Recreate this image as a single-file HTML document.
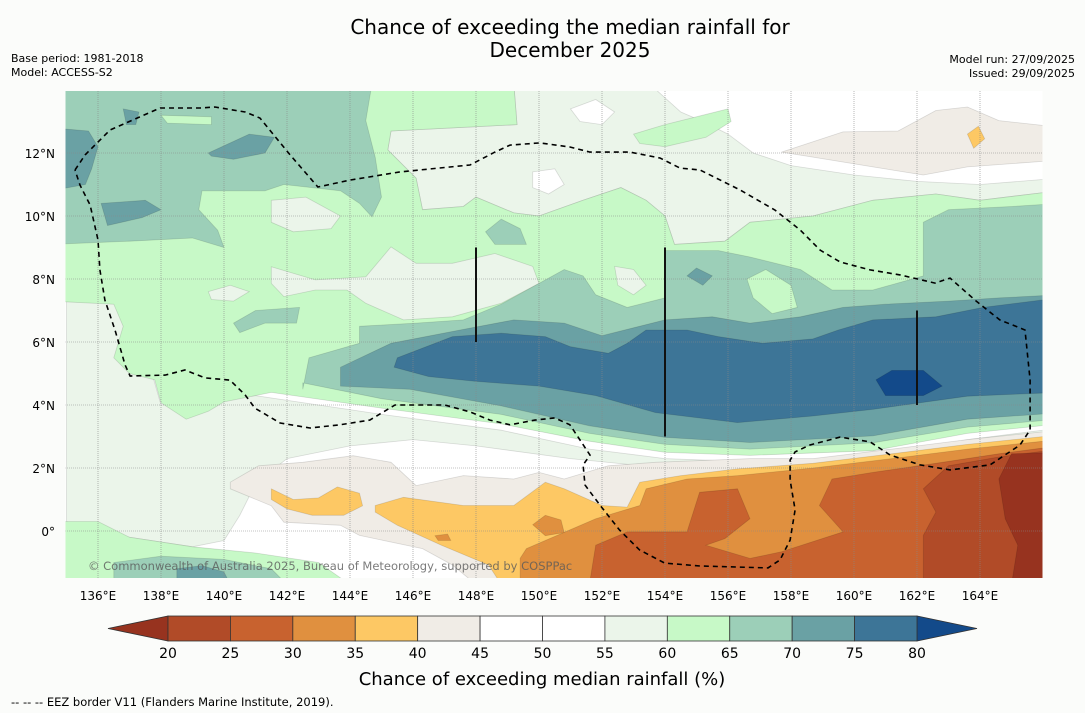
<!DOCTYPE html>
<html><head><meta charset="utf-8"><style>
body{margin:0;background:#fbfcfa;}
svg{display:block;font-family:"DejaVu Sans","Liberation Sans",sans-serif;}
</style></head><body>
<svg id="s" width="1085" height="713" viewBox="0 0 1085 713">
<rect width="1085" height="713" fill="#fbfcfa"/>
<text x="570" y="34" text-anchor="middle" font-size="20" fill="#000">Chance of exceeding the median rainfall for</text>
<text x="570" y="57" text-anchor="middle" font-size="20" fill="#000">December 2025</text>
<text x="11" y="62" font-size="11">Base period: 1981-2018</text>
<text x="11" y="76" font-size="11">Model: ACCESS-S2</text>
<text x="1075" y="63" font-size="11" text-anchor="end">Model run: 27/09/2025</text>
<text x="1075" y="77" font-size="11" text-anchor="end">Issued: 29/09/2025</text>
<defs><clipPath id="mc"><rect x="65.5" y="91" width="977" height="487"/></clipPath></defs>
<g id="map" clip-path="url(#mc)"></g>
<g id="over"></g>
<g id="cbar"></g>
<text x="542" y="685" text-anchor="middle" font-size="18">Chance of exceeding median rainfall (%)</text>
<text x="11" y="706" font-size="11.5">--  --  -- EEZ border V11 (Flanders Marine Institute, 2019).</text>
</svg>
<script>
// Colour levels
const levelLabels=[20,25,30,35,40,45,50,55,60,65,70,75,80];
const binColors=['#b14b28','#c8622f','#e0903f','#fdc864','#f0ece6','#ffffff','#ffffff','#ebf5ea','#c7f9c7','#9ccfb8','#6aa1a4','#3d7597'];
const underColor='#97331f', overColor='#134a8a';
const lonTicks=[136,138,140,142,144,146,148,150,152,154,156,158,160,162,164];
const latTicks=[0,2,4,6,8,10,12];
// Contour regions [lon,lat]
const offWhiteSouth=[[135,7.5],[137,7.5],[138,4],[141,4.3],[145,3.7],[148.8,3.2],[151.6,2.6],[154,2.3],[156.7,2.2],[160.6,2.35],[163.6,2.9],[166,3.2],[166,3.0],[163,2.6],[160,2.1],[157,1.9],[154,2.0],[151,2.3],[148,2.7],[146,2.9],[144,2.7],[142,2.3],[141,1.5],[140.5,0.5],[140,-0.3],[139,-0.5],[137,-0.2],[135,0.3]];
const offWhiteNE=[[148,14.2],[166.5,14.2],[166.5,10.8],[164,10.5],[162.6,10.7],[160.6,10.5],[158.7,10],[156.7,9.8],[155.9,9.2],[154.3,9.1],[154,10],[153.4,10.5],[152.6,10.9],[151.4,10.5],[150,10],[149.2,10.1],[148,10.6],[147.6,10.3],[146.3,10.2],[146.1,11.2],[145.2,12.1],[145.3,12.7],[149.3,12.9],[149.2,14.2]];
const whiteNE=[[153.5,14.2],[166.5,14.2],[166.5,11.2],[164,11.0],[162,11.1],[160,11.3],[158,11.6],[156.8,12.0],[156,12.6],[155.2,13.0],[154.5,13.3]];
const tanNE=[[157.7,12.03],[159.65,12.67],[161.4,12.7],[162.6,13.35],[163.6,13.46],[164.6,13.03],[166.5,12.82],[166.5,11.77],[163.6,11.56],[162.2,11.3],[160.6,11.56],[158.7,11.87]];
const orangeNE=[[163.6,12.6],[163.95,12.85],[164.15,12.45],[163.8,12.15]];
const whiteA=[[149.8,11.4],[150.5,11.5],[150.8,11.0],[150.3,10.7],[149.8,10.9]];
const whiteB=[[151,13.4],[151.8,13.7],[152.4,13.3],[152,12.9],[151.3,13.0]];
const lgNE=[[153,12.6],[154,12.9],[155.2,13.2],[156,13.4],[156.1,13.0],[155.3,12.5],[154,12.2],[153.2,12.3]];
const lightGreen=[[134.5,14.2],[149.2,14.2],[149.3,12.9],[145.3,12.7],[145.2,12.1],[146.1,11.2],[146.3,10.2],[147.6,10.3],[148,10.6],[149.2,10.1],[150,10],[151.4,10.5],[152.6,10.9],[153.4,10.5],[154,10],[154.3,9.1],[155.9,9.2],[156.7,9.8],[158.7,10],[160.6,10.5],[162.6,10.7],[164,10.5],[166.5,10.8],[166.5,3.4],[163.6,3.1],[160.6,2.55],[156.7,2.4],[154,2.5],[151.6,2.85],[148.8,3.4],[145,3.9],[141.5,4.4],[140,4.1],[139.5,3.8],[138.8,3.55],[138,4.07],[137.8,4.8],[137,5.0],[136.5,5.5],[136.8,6.5],[136.5,7.2],[134.5,7.3]];
const ow1=[[141.5,10.5],[142.6,10.6],[143.7,10.0],[143.4,9.6],[142.2,9.5],[141.5,9.8]];
const ow2=[[141.5,8.39],[142.9,7.97],[144.5,8.07],[145.3,9.02],[146.1,8.5],[147.25,8.5],[148.6,8.81],[149.8,8.4],[150,7.86],[148.8,7.23],[147.25,6.8],[145.7,6.7],[144.5,7.23],[143.9,7.65],[142.9,7.65],[141.9,7.44],[141.5,7.86]];
const ow3=[[139.5,7.6],[140.2,7.8],[140.8,7.6],[140.3,7.3],[139.6,7.35]];
const ow4=[[152.4,8.4],[153,8.3],[153.4,7.8],[153,7.5],[152.5,7.8]];
const tealNW=[[134.5,14.2],[144.7,14.2],[144.5,13.03],[144.8,11.87],[145,10.6],[144.7,9.97],[144.3,10.4],[143.7,10.8],[141.9,11.0],[141.3,10.8],[139.3,10.8],[139.2,10.2],[139.8,9.55],[140,9.0],[139,9.3],[137,9.2],[134.5,9.1]];
const lgNWspot=[[138,13.2],[139.6,13.15],[139.6,12.9],[138.2,12.95]];
const darkNW1=[[134.5,12.8],[135.7,12.7],[136,12.2],[135.8,11.5],[135.6,11.0],[134.5,10.8]];
const darkNW2=[[139.5,12.0],[140.8,12.6],[141.6,12.5],[141.3,12.0],[140.3,11.8],[139.6,11.9]];
const darkNW3=[[136.1,10.4],[137.5,10.5],[138,10.2],[137.4,9.95],[136.3,9.7]];
const darkNW4=[[136.8,13.4],[137.3,13.3],[137.2,12.9],[136.9,12.9]];
const tealMid1=[[148.3,9.5],[148.8,9.9],[149.4,9.6],[149.6,9.1],[148.6,9.1]];
const tealMid2=[[140.3,6.6],[141,7.0],[142.4,7.1],[142.3,6.6],[141.3,6.6],[140.5,6.3]];
const teal65=[[142.5,4.5],[142.7,5.5],[144.3,5.96],[144.3,6.5],[146.1,6.6],[147.6,6.7],[148.8,7.2],[150.8,8.3],[151.4,8.1],[151.8,7.5],[152.8,7.1],[154,7.4],[154,8.9],[155.7,8.9],[156.7,8.7],[158.3,8.3],[159.3,7.65],[160.6,7.65],[162.2,8.1],[162.2,9.8],[163,10.2],[165,10.3],[166.5,10.4],[166.5,3.55],[163.6,3.3],[160.6,2.8],[156.7,2.6],[154,2.75],[151.6,3.1],[148.8,3.7],[145,4.2],[142.5,4.7]];
const lgHole=[[156.6,8.0],[157.2,8.3],[158,7.8],[158.2,7.1],[157.4,6.9],[156.8,7.4]];
const teal70=[[143.7,4.6],[143.7,5.2],[145.3,5.96],[147.6,6.4],[149.2,6.7],[150.8,6.6],[152,6.2],[154,6.7],[155.5,6.8],[156.7,6.6],[158.3,6.8],[159.65,7.1],[161,7.2],[163,7.3],[164.6,7.4],[166.5,7.5],[166.5,3.75],[163.6,3.55],[160.6,3.02],[156.7,2.81],[154,2.97],[151.6,3.34],[148.8,3.97],[145.9,4.5]];
const tealSpot=[[154.7,8.1],[155,8.35],[155.5,8.1],[155.2,7.8]];
const blue75=[[145.4,5.2],[145.5,5.5],[147.25,6.17],[148.8,6.28],[150.2,6.17],[151,5.85],[152.2,5.64],[152.8,5.96],[153.4,6.38],[154.7,6.38],[155.7,6.17],[157.1,5.96],[158.7,6.1],[159.5,6.38],[160.6,6.7],[162.6,6.8],[164.1,7.1],[166.5,7.4],[166.5,4.4],[163.6,4.28],[160.6,3.86],[158.7,3.65],[156.3,3.44],[153.7,3.76],[151.8,4.3],[150,4.6],[148,4.75],[146.5,4.9]];
const blue80=[[160.7,4.8],[161.2,5.1],[162.2,5.1],[162.8,4.6],[162.2,4.3],[161,4.3]];
const lgSW=[[134.5,0.3],[136,0.3],[137,-0.2],[139,-0.5],[141,-0.7],[143,-1.0],[144,-1.7],[134.5,-1.7]];
const tealSW=[[136.5,-1.0],[138,-0.8],[140,-0.9],[141.5,-1.2],[142,-1.7],[136.5,-1.7]];
const darkSW=[[138.5,-1.2],[139.3,-1.1],[140,-1.3],[140.2,-1.7],[138.5,-1.7]];
const tan=[[140.2,1.55],[141.1,2.07],[142.5,2.18],[144.1,2.39],[145.3,2.18],[146.1,1.44],[147.6,1.76],[149.2,1.65],[150,1.86],[150.8,1.65],[152.2,2.07],[153.7,2.18],[156.7,2.3],[158.7,2.3],[161.2,2.6],[163.6,2.9],[166.5,3.2],[166.5,-1.7],[148,-1.7],[147.25,-1.08],[146.3,-0.56],[144.3,-0.14],[143.7,0.18],[141.9,0.28],[141.5,0.8],[140.2,1.34]];
const yellowW=[[141.5,1.34],[142.2,1.0],[143,1.05],[143.6,1.4],[144.3,1.2],[144.4,0.8],[143.8,0.5],[142.8,0.5],[142,0.7],[141.5,1.0]];
const yellow=[[144.8,0.81],[145.7,1.07],[147.6,0.81],[149.2,0.81],[150.2,1.55],[150.8,1.34],[152,0.81],[152.8,0.76],[153.2,1.55],[154.5,1.76],[156.3,1.97],[158.7,2.15],[161.2,2.45],[163.6,2.75],[166.5,3.05],[166.5,-1.7],[148.8,-1.7],[148.4,-1.08],[146.9,-0.45],[145.5,0.18],[144.8,0.6]];
const orange=[[149.4,-0.87],[149.6,-0.56],[151.8,0.39],[153.2,0.81],[153.4,1.34],[154.7,1.65],[156.3,1.76],[158.7,2.0],[161.2,2.3],[163.6,2.6],[166.5,2.9],[166.5,-1.7],[149.4,-1.7]];
const orangeSpot=[[149.8,0.2],[150.2,0.5],[150.7,0.35],[150.8,-0.05],[150.2,-0.15]];
const orangeDot=[[146.7,-0.15],[147.1,-0.1],[147.2,-0.3],[146.8,-0.3]];
const red=[[151.6,-1.7],[151.8,-0.45],[152.8,-0.03],[154.7,-0.03],[155.1,1.23],[156.3,1.34],[156.7,0.39],[155.9,-0.24],[155.3,-0.45],[156.7,-0.87],[157.7,-0.66],[159.65,-0.03],[158.9,0.81],[159.3,1.65],[160.6,1.86],[162.6,2.15],[164.6,2.45],[166.5,2.7],[166.5,-1.7]];
const darkRed=[[162.2,-1.7],[162.2,-0.14],[162.6,0.6],[162.2,1.34],[163,2.07],[164.6,2.35],[166.5,2.6],[166.5,-1.7]];
const darkest=[[165,2.45],[164.6,1.65],[164.8,0.39],[165.2,-0.45],[165,-1.7],[166.5,-1.7],[166.5,2.5]];
const eez=[[135.27,11.46],[135.59,11.94],[136.38,12.73],[137.97,13.43],[139.24,13.43],[139.71,13.46],[140.67,13.3],[141.14,13.11],[142.10,11.94],[142.98,10.92],[144.0,11.14],[145.59,11.4],[147.81,11.62],[148.6,12.03],[149.08,12.25],[150.03,12.32],[150.98,12.19],[151.62,12.03],[152.89,12.03],[153.84,11.84],[154.48,11.52],[155.11,11.46],[156.38,10.83],[157.49,10.19],[158.29,9.56],[158.92,8.92],[159.56,8.54],[160.51,8.29],[161.46,8.13],[162.57,7.87],[163.05,8.03],[163.84,7.33],[164.63,6.7],[165.43,6.38],[165.59,4.79],[165.59,3.21],[165.27,2.73],[164.32,2.1],[163.05,1.94],[162.1,2.1],[161.15,2.41],[160.51,2.83],[159.56,2.98],[158.6,2.73],[158.13,2.51],[157.97,2.25],[157.97,1.62],[158.13,0.67],[157.97,-0.29],[157.65,-0.92],[157.27,-1.17],[155.11,-1.11],[153.99,-1.02],[153.19,-0.6],[152.56,0.03],[151.93,0.83],[151.46,1.46],[151.4,2.1],[151.62,2.41],[151.3,2.89],[150.98,3.37],[150.5,3.59],[149.87,3.52],[149.08,3.37],[148.44,3.52],[147.81,3.78],[147.01,4.0],[146.22,4.0],[145.43,4.0],[144.63,3.52],[143.68,3.37],[142.73,3.27],[141.78,3.43],[140.98,3.9],[140.67,4.32],[140.19,4.79],[139.4,4.86],[138.76,5.11],[138.13,4.95],[137.02,4.92],[136.86,5.27],[136.54,6.38],[136.22,7.33],[136.06,8.29],[136.0,9.24],[135.75,10.35],[135.43,10.98],[135.27,11.46]];
const ridgeLons=[148,154,162];
const ridgeTop=[9,9,7];
const ridgeBot=[6,3,4];

const NS='http://www.w3.org/2000/svg';
const X=lon=>66.5+(lon-135)*31.5;
const Y=lat=>531-lat*31.5;
const map=document.getElementById('map'),over=document.getElementById('over'),cb=document.getElementById('cbar');
function mk(tag,parent){const e=document.createElementNS(NS,tag);parent.appendChild(e);return e;}
function pts(a){return a.map(p=>X(p[0]).toFixed(1)+','+Y(p[1]).toFixed(1)).join(' ');}
const bg=mk('rect',map);bg.setAttribute('x',65);bg.setAttribute('y',91);bg.setAttribute('width',978);bg.setAttribute('height',488);bg.setAttribute('fill','#ffffff');


const layers=[
 [offWhiteSouth,7,'offwhite-south'],[offWhiteNE,7,'offwhite-northeast'],[whiteNE,5,'white-northeast'],[tanNE,4,'tan-northeast'],[orangeNE,3,'yellow-spot-northeast'],[whiteA,5,'white-patch-a'],[whiteB,5,'white-patch-b'],[lgNE,8,'lightgreen-northeast'],
 [lightGreen,8,'lightgreen-main'],[ow1,7,'offwhite-patch-1'],[ow2,7,'offwhite-patch-2'],[ow3,7,'offwhite-patch-3'],[ow4,7,'offwhite-patch-4'],
 [tealNW,9,'teal-northwest'],[lgNWspot,8,'lightgreen-nw-spot'],[darkNW1,10,'darkteal-nw-1'],[darkNW2,10,'darkteal-nw-2'],[darkNW3,10,'darkteal-nw-3'],[darkNW4,10,'darkteal-nw-4'],
 [tealMid1,9,'teal-mid-1'],[tealMid2,9,'teal-mid-2'],[teal65,9,'teal-65-band'],[lgHole,8,'lightgreen-hole'],[tealSpot,10,'darkteal-spot'],[teal70,10,'teal-70-band'],[blue75,11,'blue-75-band'],[blue80,-2,'blue-80-core'],
 [lgSW,8,'lightgreen-southwest'],[tealSW,9,'teal-southwest'],[darkSW,10,'darkteal-southwest'],
 [tan,4,'tan-40-region'],[yellowW,3,'yellow-west'],[yellow,3,'yellow-35-region'],[orange,2,'orange-30-region'],[orangeSpot,2,'orange-spot'],[orangeDot,2,'orange-dot'],[red,1,'red-25-region'],[darkRed,0,'darkred-20-region'],[darkest,-1,'below-20-region']
];
layers.forEach(L=>{
 const p=mk('polygon',map);p.setAttribute('points',pts(L[0]));
 p.setAttribute('fill',L[1]===-1?underColor:L[1]===-2?overColor:binColors[L[1]]);
 p.setAttribute('stroke','rgba(0,0,0,0.13)');p.setAttribute('stroke-width','0.8');
 
 
});
// gridlines
lonTicks.forEach(l=>{const g=mk('line',map);g.setAttribute('x1',X(l));g.setAttribute('x2',X(l));g.setAttribute('y1',91);g.setAttribute('y2',578);g.setAttribute('stroke','#888');g.setAttribute('stroke-width','0.6');g.setAttribute('stroke-dasharray','1,1');
 
 });
latTicks.forEach(l=>{const g=mk('line',map);g.setAttribute('x1',65);g.setAttribute('x2',1043);g.setAttribute('y1',Y(l));g.setAttribute('y2',Y(l));g.setAttribute('stroke','#888');g.setAttribute('stroke-width','0.6');g.setAttribute('stroke-dasharray','1,1');
 
 });
// ridges
ridgeLons.forEach((l,i)=>{const g=mk('line',map);g.setAttribute('x1',X(l));g.setAttribute('x2',X(l));g.setAttribute('y1',Y(ridgeTop[i]));g.setAttribute('y2',Y(ridgeBot[i]));g.setAttribute('stroke','#111');g.setAttribute('stroke-width','2');
 
 });
// EEZ
const ez=mk('polyline',map);ez.setAttribute('points',pts(eez));ez.setAttribute('fill','none');ez.setAttribute('stroke','#000');ez.setAttribute('stroke-width','1.6');ez.setAttribute('stroke-dasharray','5,4');


// copyright
const cp=mk('text',map);cp.setAttribute('x',88);cp.setAttribute('y',570);cp.setAttribute('font-size','11.5');cp.setAttribute('fill','rgba(90,90,90,0.8)');cp.textContent='© Commonwealth of Australia 2025, Bureau of Meteorology, supported by COSPPac';


// tick labels
lonTicks.forEach(l=>{const t=mk('text',over);t.setAttribute('x',X(l));t.setAttribute('y',600);t.setAttribute('text-anchor','middle');t.setAttribute('font-size','12');t.textContent=l+'°E';
 
 });
latTicks.forEach(l=>{const t=mk('text',over);t.setAttribute('x',55);t.setAttribute('y',Y(l)+5);t.setAttribute('text-anchor','end');t.setAttribute('font-size','12');t.textContent=l===0?'0°':l+'°N';
 
 });
// colorbar
const cx0=168,cx1=917,cy=616,ch=25,bw=(cx1-cx0)/binColors.length;
const lt=mk('polygon',cb);lt.setAttribute('points',`108,${cy+ch/2} ${cx0},${cy} ${cx0},${cy+ch}`);lt.setAttribute('fill',underColor);lt.setAttribute('stroke','#333');lt.setAttribute('stroke-width','0.8');


const rt=mk('polygon',cb);rt.setAttribute('points',`977,${cy+ch/2} ${cx1},${cy} ${cx1},${cy+ch}`);rt.setAttribute('fill',overColor);rt.setAttribute('stroke','#333');rt.setAttribute('stroke-width','0.8');


binColors.forEach((c,i)=>{const r=mk('rect',cb);r.setAttribute('x',cx0+i*bw);r.setAttribute('y',cy);r.setAttribute('width',bw);r.setAttribute('height',ch);r.setAttribute('fill',c);r.setAttribute('stroke','#333');r.setAttribute('stroke-width','0.8');
 
 });
levelLabels.forEach((v,i)=>{const t=mk('text',cb);t.setAttribute('x',cx0+i*bw);t.setAttribute('y',658);t.setAttribute('text-anchor','middle');t.setAttribute('font-size','14');t.textContent=v;
 
 });
</script>
</body></html>
